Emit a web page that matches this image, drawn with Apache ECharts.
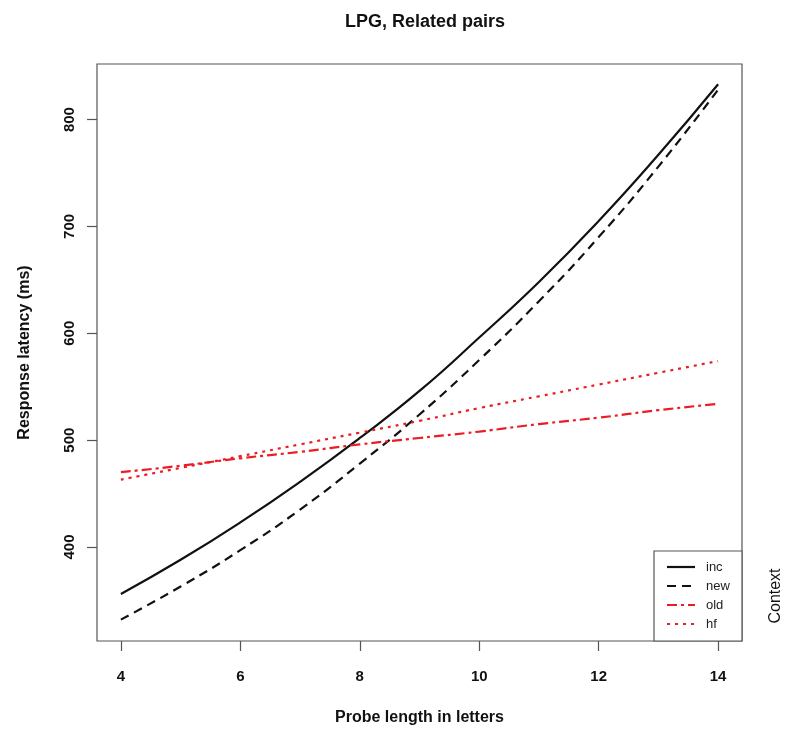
<!DOCTYPE html>
<html>
<head>
<meta charset="utf-8">
<title>LPG, Related pairs</title>
<script src="https://cdn.jsdelivr.net/npm/echarts@6/dist/echarts.min.js"></script>
<style>
  html, body { margin: 0; padding: 0; background: #fff; }
  #chart { width: 787px; height: 733px; }
</style>
</head>
<body>
<div id="chart"></div>
<script>
// Probe length (letters) at which each predicted latency is read
const probeLength = [4, 5, 6, 7, 8, 9, 10, 11, 12, 13, 14];

// Predicted response latency (ms) per context condition
const incLatency = [356, 388, 423, 461, 502, 546, 596, 648, 705, 767, 833];
const newLatency = [332, 363, 397, 435, 478, 524, 575, 630, 690, 756, 828];
const oldLatency = [470, 476, 483, 489, 496, 502, 508, 515, 521, 528, 534];
const hfLatency  = [463, 474, 485, 496, 507, 518, 530, 541, 552, 563, 574];

// Axis ticks
const xTicks = [4, 6, 8, 10, 12, 14];
const yTicks = [400, 500, 600, 700, 800];

const FONT = 'Liberation Sans, Arial, Helvetica, sans-serif';
const RED = '#ec1c24';

function pairs(values) {
  return probeLength.map((x, i) => [x, values[i]]);
}

const seriesDefs = [
  { name: 'inc', values: incLatency, color: '#111', type: 'solid' },
  { name: 'new', values: newLatency, color: '#111', type: [9, 6] },
  { name: 'old', values: oldLatency, color: RED, type: [10, 4, 3, 4] },
  { name: 'hf',  values: hfLatency,  color: RED, type: [3, 5] }
];

// Legend box in the lower right corner of the plot, drawn as graphics
const LEG = { x: 654, y: 551, w: 88, h: 90, lineX0: 667, lineX1: 695, textX: 706, row0: 567, rowGap: 19 };
const legendGraphics = [
  {
    type: 'rect',
    z: 10,
    shape: { x: LEG.x, y: LEG.y, width: LEG.w, height: LEG.h },
    style: { fill: '#fff', stroke: '#555', lineWidth: 1.2 }
  }
];
seriesDefs.forEach((d, i) => {
  const y = LEG.row0 + i * LEG.rowGap;
  legendGraphics.push({
    type: 'line',
    z: 11,
    shape: { x1: LEG.lineX0, y1: y, x2: LEG.lineX1, y2: y },
    style: {
      stroke: d.color,
      lineWidth: 2.2,
      lineDash: d.type === 'solid' ? null : d.type
    }
  });
  legendGraphics.push({
    type: 'text',
    z: 11,
    x: LEG.textX,
    y: y,
    style: {
      text: d.name,
      fontFamily: FONT,
      fontSize: 13,
      fill: '#222',
      align: 'left',
      verticalAlign: 'middle'
    }
  });
});

const chart = echarts.init(document.getElementById('chart'), null, { renderer: 'canvas' });

chart.setOption({
  animation: false,
  backgroundColor: '#fff',
  textStyle: { fontFamily: FONT },
  title: {
    text: 'LPG, Related pairs',
    left: 420,
    top: 8,
    textAlign: 'center',
    textStyle: { fontFamily: FONT, fontSize: 18, fontWeight: 'bold', color: '#111' }
  },
  grid: {
    left: 97, right: 45, top: 64, bottom: 92,
    show: true,
    borderColor: '#555',
    borderWidth: 1.2,
    containLabel: false
  },
  xAxis: {
    type: 'value',
    min: 3.6,
    max: 14.4,
    name: 'Probe length in letters',
    nameLocation: 'middle',
    nameGap: 69,
    nameTextStyle: { fontFamily: FONT, fontSize: 16, fontWeight: 'bold', color: '#111' },
    axisLine: { show: false },
    splitLine: { show: false },
    axisTick: {
      show: true,
      customValues: xTicks,
      length: 10,
      lineStyle: { color: '#555', width: 1.2 }
    },
    axisLabel: {
      customValues: xTicks,
      margin: 28,
      fontFamily: FONT,
      fontSize: 15,
      fontWeight: 'bold',
      color: '#111'
    }
  },
  yAxis: {
    type: 'value',
    min: 312,
    max: 852,
    name: 'Response latency (ms)',
    nameLocation: 'middle',
    nameRotate: 90,
    nameGap: 64,
    nameTextStyle: { fontFamily: FONT, fontSize: 16, fontWeight: 'bold', color: '#111' },
    axisLine: { show: false },
    splitLine: { show: false },
    axisTick: {
      show: true,
      customValues: yTicks,
      length: 10,
      lineStyle: { color: '#555', width: 1.2 }
    },
    axisLabel: {
      customValues: yTicks,
      rotate: 90,
      margin: 20,
      fontFamily: FONT,
      fontSize: 15,
      fontWeight: 'bold',
      color: '#111'
    }
  },
  graphic: legendGraphics.concat([
    {
      type: 'text',
      x: 776,
      y: 596,
      rotation: Math.PI / 2,
      style: {
        text: 'Context',
        fontFamily: FONT,
        fontSize: 16,
        fill: '#111',
        align: 'center',
        verticalAlign: 'middle'
      }
    }
  ]),
  series: seriesDefs.map(d => ({
    name: d.name,
    type: 'line',
    data: pairs(d.values),
    smooth: true,
    symbol: 'none',
    showSymbol: false,
    z: 3,
    itemStyle: { color: d.color },
    lineStyle: { color: d.color, width: 2.2, type: d.type }
  }))
});
</script>
</body>
</html>
